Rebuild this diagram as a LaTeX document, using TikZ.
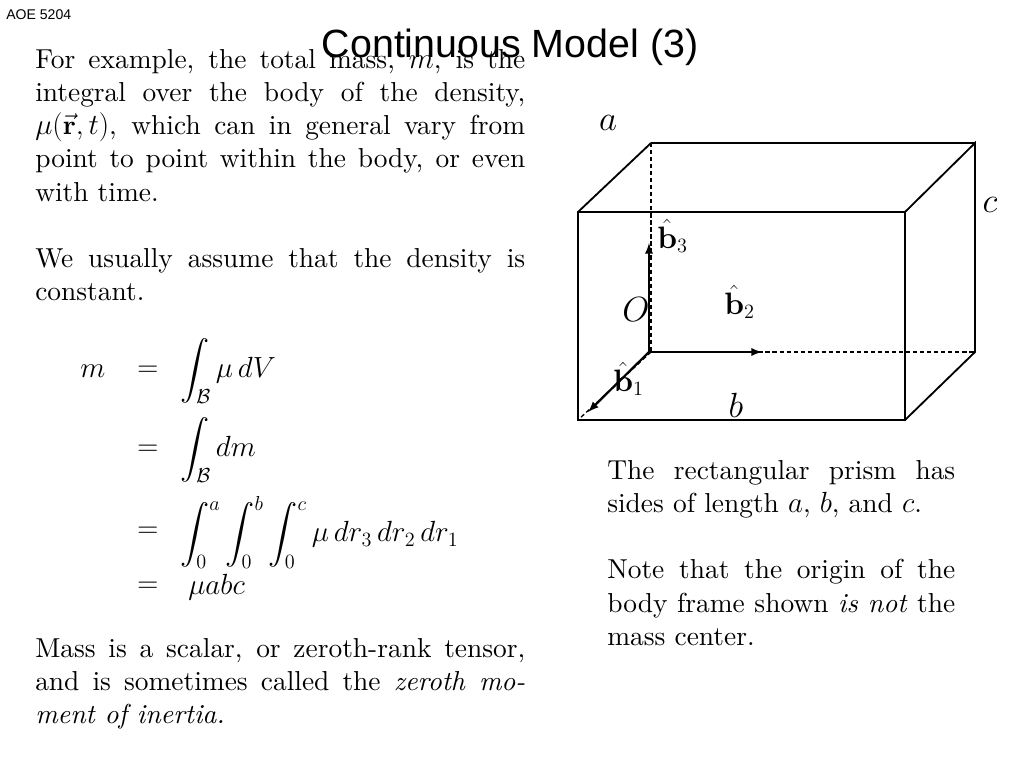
\documentclass[tikz,border=0pt]{standalone}
\usepackage{amsmath}
\usepackage{fontspec}
\setmainfont{lmroman10-regular.otf}[ItalicFont=lmroman10-italic.otf, BoldFont=lmroman10-bold.otf]
\newfontfamily\headfont{Liberation Sans}
\usetikzlibrary{positioning}
\tikzset{
  body/.style={anchor=north west, align=justify, inner sep=0pt,
    font=\fontsize{19.5}{23.6}\selectfont},
  eq/.style={anchor=west, inner sep=0pt, font=\fontsize{20}{23.6}\selectfont},
  edge/.style={line width=1.3pt},
  hidden/.style={line width=0.9pt, dash pattern=on 3pt off 2pt},
  axis/.style={line width=1.6pt, -latex},
  lbl/.style={inner sep=0pt, font=\fontsize{27}{30}\selectfont},
  hat/.style={anchor=west, inner sep=0pt, font=\fontsize{22}{26}\selectfont}
}
\begin{document}
\begin{tikzpicture}[x=0.025cm, y=-0.025cm]
  \useasboundingbox (0,0) rectangle (1024,768);

  % header
  \node[anchor=west, inner sep=0pt, font=\headfont\fontsize{10}{12}\selectfont] (course) at (6,15) {AOE 5204};
  \node[inner sep=0pt, font=\headfont\fontsize{28}{32}\selectfont] (title) at (510,47) {Continuous Model (3)};

  % left column
  \node[body, text width=490*0.025cm] (intro) at (35,49)
    {For example, the total mass, $m$, is the integral over the body of the density, $\mu(\vec{\mathbf r},t)$, which can in general vary from point to point within the body, or even with time.\par\vspace{23.6pt}
     We usually assume that the density is constant.};

  \node[eq] (m) at (80,371) {$m$};
  \node[eq] (e1) at (137,371) {$=$};
  \node[eq] (r1) at (180,371) {$\displaystyle\int_{\mathcal B}\mu\,dV$};
  \node[eq] (e2) at (137,450) {$=$};
  \node[eq] (r2) at (180,450) {$\displaystyle\int_{\mathcal B}dm$};
  \node[eq] (e3) at (137,532) {$=$};
  \node[eq] (r3) at (180,532) {$\displaystyle\int_0^a\int_0^b\int_0^c\mu\,dr_3\,dr_2\,dr_1$};
  \node[eq] (e4) at (137,587) {$=$};
  \node[eq] (r4) at (188,587) {$\mu abc$};

  \node[body, text width=490*0.025cm] (mass) at (35,638)
    {Mass is a scalar, or zeroth-rank tensor, and is sometimes called the \emph{zeroth moment of inertia.}};

  % right column text
  \node[body, text width=348*0.025cm] (sides) at (607,460)
    {The rectangular prism has sides of length $a$, $b$, and $c$.\par\vspace{23.6pt}
     Note that the origin of the body frame shown \emph{is not} the mass center.};

  % prism
  \coordinate (f1) at (578,212); \coordinate (f2) at (905,212);
  \coordinate (f3) at (905,420); \coordinate (f4) at (578,420);
  \coordinate (k1) at (651,143); \coordinate (k2) at (975,143);
  \coordinate (k3) at (975,352); \coordinate (k4) at (651,352);
  \draw[edge] (f1) -- (f2) -- (f3) -- (f4) -- cycle;
  \draw[edge] (f1) -- (k1);
  \draw[edge] (f2) -- (k2) -- (k3) -- (f3);
  \draw[edge] (k1) -- (k2);
  \draw[hidden] (k1) -- (k4) -- (k3);
  \draw[hidden] (k4) -- (f4);

  % body frame
  \coordinate (O) at (649,352);
  \coordinate (t3) at (649,243);
  \coordinate (t2) at (762,352);
  \coordinate (t1) at (588,412);
  \draw[axis] (O) -- (t3);
  \draw[axis] (O) -- (t2);
  \draw[axis] (O) -- (t1);

  \node[lbl] (la) at (608,123) {$a$};
  \node[lbl] (lc) at (990,205) {$c$};
  \node[lbl] (lO) at (636,310) {$O$};
  \node[lbl] (lb) at (736,405) {$b$};
  \node[hat] (l3) at (657,236) {$\hat{\mathbf b}_3$};
  \node[hat] (l2) at (724,302) {$\hat{\mathbf b}_2$};
  \node[hat] (l1) at (613,379) {$\hat{\mathbf b}_1$};
\end{tikzpicture}
\end{document}
